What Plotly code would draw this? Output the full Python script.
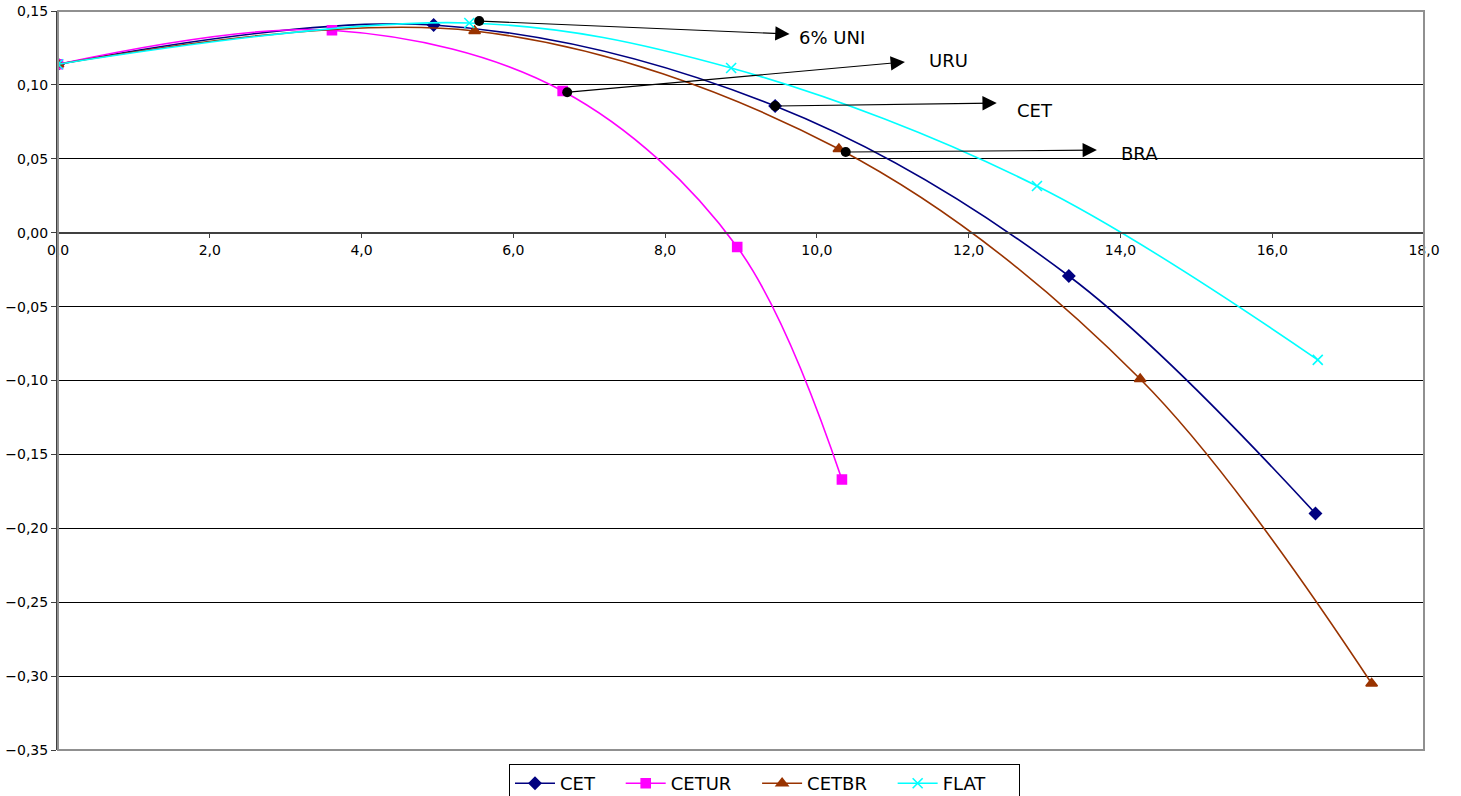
import plotly.graph_objects as go

# Data
cet_x = [0.0, 4.95, 9.45, 13.32, 16.57]
cet_y = [0.114, 0.1405, 0.0857, -0.0293, -0.190]
cetur_x = [0.0, 3.61, 6.65, 8.95, 10.33]
cetur_y = [0.114, 0.137, 0.0959, -0.0097, -0.167]
cetbr_x = [0.0, 5.49, 10.29, 14.26, 17.31]
cetbr_y = [0.114, 0.1365, 0.0566, -0.099, -0.305]
flat_x = [0.0, 5.42, 8.87, 12.90, 16.60]
flat_y = [0.114, 0.1419, 0.1114, 0.0316, -0.086]

dot_labels = ["6% UNI", "URU", "CET", "BRA"]
dot_x = [5.55, 6.71, 9.45, 10.38]
dot_y = [0.1432, 0.095, 0.0857, 0.0546]
head_x = [9.64, 11.16, 12.37, 13.69]
head_y = [0.1344, 0.1155, 0.0877, 0.0559]
label_x = [9.74, 11.45, 12.61, 13.98]
label_y = [0.1324, 0.1162, 0.083, 0.0539]

xticks = [0, 2, 4, 6, 8, 10, 12, 14, 16, 18]
yticks = [0.15, 0.10, 0.05, 0.0, -0.05, -0.10, -0.15, -0.20, -0.25, -0.30, -0.35]

FONT = "DejaVu Sans, Liberation Sans, Arial"
NB = "\u00a0"
TH = "\u2009"

fig = go.Figure()
series = [
    ("CET", cet_x, cet_y, "#000080", "diamond", 9, NB * 3 + TH),
    ("CETUR", cetur_x, cetur_y, "#FF00FF", "square", 9, NB * 3 + TH),
    ("CETBR", cetbr_x, cetbr_y, "#993300", "triangle-up", 10, NB * 3 + TH),
    ("FLAT", flat_x, flat_y, "#00FFFF", "x-thin", 10, NB * 5),
]
for name, xs, ys, col, sym, sz, pad in series:
    fig.add_trace(go.Scatter(
        x=xs, y=ys, name=name + pad, mode="lines+markers",
        line=dict(color=col, width=1.6, shape="spline", smoothing=1.0),
        marker=dict(symbol=sym, size=sz, color=col,
                    line=dict(color=col, width=1.6)),
    ))

fig.add_trace(go.Scatter(
    x=dot_x, y=dot_y, mode="markers", showlegend=False,
    marker=dict(symbol="circle", size=10, color="black"),
))

for i in range(len(dot_labels)):
    fig.add_annotation(
        x=head_x[i], y=head_y[i], ax=dot_x[i], ay=dot_y[i],
        xref="x", yref="y", axref="x", ayref="y",
        text="", showarrow=True, arrowhead=2, arrowsize=2.6,
        arrowwidth=1.1, arrowcolor="black",
    )
    fig.add_annotation(
        x=label_x[i], y=label_y[i], xref="x", yref="y",
        text=dot_labels[i], showarrow=False, xanchor="left", yanchor="middle",
        font=dict(size=18, color="black", family=FONT),
    )

# plot frame
fig.add_shape(type="rect", xref="paper", yref="paper", x0=0, x1=1, y0=0, y1=1,
              line=dict(color="#909090", width=2), layer="above")

fig.update_layout(
    width=1461, height=796,
    margin=dict(l=58, r=37, t=11, b=46, autoexpand=False),
    paper_bgcolor="white", plot_bgcolor="white",
    separators=", ",
    font=dict(family=FONT, size=14, color="black"),
    legend=dict(orientation="h", x=(509 - 58) / 1366, xanchor="left",
                y=-0.019, yanchor="top",
                bordercolor="black", borderwidth=1, font=dict(size=18, family=FONT),
                itemwidth=40, tracegroupgap=0),
    xaxis=dict(range=[0, 18], tickvals=xticks, tickformat=".1f",
               showgrid=False, zeroline=False, showline=True, automargin=False,
               linecolor="#404040", linewidth=1.5,
               ticks="outside", ticklen=5, tickcolor="#404040",
               anchor="free", position=0.7, tickfont=dict(size=14)),
    yaxis=dict(range=[-0.35, 0.15], tickvals=yticks, tickformat=".2f",
               showgrid=True, gridcolor="black", gridwidth=1, automargin=False,
               zeroline=False, showline=True, linecolor="#404040", linewidth=2,
               ticks="outside", ticklen=5, tickcolor="#404040",
               ticklabeloverflow="allow", tickfont=dict(size=14)),
)

fig.write_html("out.html", config={"displayModeBar": False},
               post_script="document.body.style.margin='0';document.body.style.overflow='hidden';")
